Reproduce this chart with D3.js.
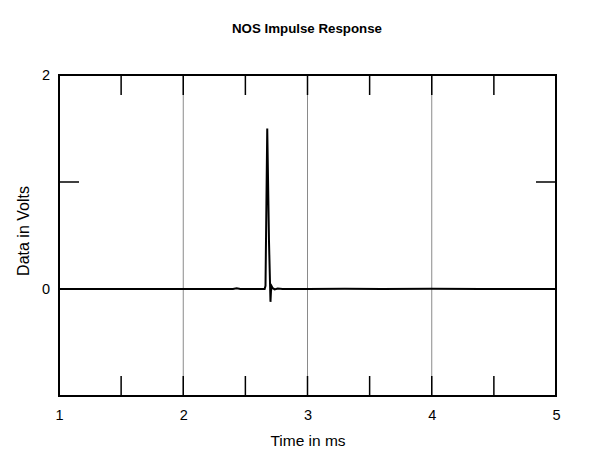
<!DOCTYPE html>
<html>
<head>
<meta charset="utf-8">
<script src="https://cdn.jsdelivr.net/npm/d3@7"></script>
<style>
  html, body { margin: 0; padding: 0; background: #fff; }
  svg { display: block; font-family: "Liberation Sans", Arial, Helvetica, sans-serif; }
</style>
</head>
<body>
<svg id="chart" width="600" height="458"></svg>
<script>
// ---- data ----
const title = "NOS Impulse Response";
const xLabel = "Time in ms";
const yLabel = "Data in Volts";
const xTickLabels = [1, 2, 3, 4, 5];
const yTickLabels = [0, 2];
const xGridValues = [2, 3, 4];
const xMinorTicks = [1.5, 2, 2.5, 3, 3.5, 4, 4.5];
const yMinorTicks = [1];
const timeMs = [1.0, 2.0, 2.40, 2.43, 2.46, 2.60, 2.655, 2.662, 2.676, 2.690, 2.702, 2.706, 2.712, 2.720, 2.735, 2.76, 2.80, 3.0, 3.3, 3.6, 4.0, 4.4, 4.8, 5.0];
const volts  = [0.0, 0.0, 0.0, 0.006, 0.0, 0.0, 0.0, 0.03, 1.50, 0.45, -0.12, -0.02, 0.025, 0.008, -0.004, 0.004, 0.0, 0.0, 0.003, 0.0, 0.002, 0.0, 0.0, 0.0];

// ---- layout ----
const svg = d3.select("#chart");
const L = 59, R = 556, T = 75, B = 396;
const x = d3.scaleLinear().domain([1, 5]).range([L, R]);
const y = d3.scaleLinear().domain([-1, 2]).range([B, T]);
const tickLen = 20;

// title
svg.append("text").attr("x", 307).attr("y", 33).attr("text-anchor", "middle")
  .attr("font-size", 13.3).attr("font-weight", "bold").text(title);

// gridlines
svg.append("g").selectAll("line").data(xGridValues).join("line")
  .attr("x1", d => x(d)).attr("x2", d => x(d)).attr("y1", T).attr("y2", B)
  .attr("stroke", "#8a8a8a").attr("stroke-width", 1);

// inner ticks top & bottom
const tg = svg.append("g").attr("stroke", "#000").attr("stroke-width", 1.5);
tg.selectAll(".tt").data(xMinorTicks).join("line")
  .attr("x1", d => x(d)).attr("x2", d => x(d)).attr("y1", T).attr("y2", T + tickLen);
tg.selectAll(".tb").data(xMinorTicks).join("line")
  .attr("x1", d => x(d)).attr("x2", d => x(d)).attr("y1", B).attr("y2", B - tickLen);
tg.selectAll(".tl").data(yMinorTicks).join("line")
  .attr("x1", L).attr("x2", L + tickLen).attr("y1", d => y(d)).attr("y2", d => y(d));
tg.selectAll(".tr").data(yMinorTicks).join("line")
  .attr("x1", R).attr("x2", R - tickLen).attr("y1", d => y(d)).attr("y2", d => y(d));

// data line
const line = d3.line().x((d, i) => x(timeMs[i])).y(d => y(d));
svg.append("path").datum(volts).attr("d", line)
  .attr("fill", "none").attr("stroke", "#000").attr("stroke-width", 2)
  .attr("stroke-linejoin", "miter");

// frame
svg.append("rect").attr("x", L).attr("y", T).attr("width", R - L).attr("height", B - T)
  .attr("fill", "none").attr("stroke", "#000").attr("stroke-width", 2);

// axes labels via d3 axes
const xAxis = d3.axisBottom(x).tickValues(xTickLabels).tickSize(0).tickPadding(14).tickFormat(d3.format("d"));
const gx = svg.append("g").attr("transform", `translate(0,${B})`).call(xAxis);
gx.select(".domain").remove();
gx.selectAll("text").attr("font-size", 14.5).attr("fill", "#000").attr("font-family", "Liberation Sans, Arial, sans-serif");

const yAxis = d3.axisLeft(y).tickValues(yTickLabels).tickSize(0).tickPadding(9).tickFormat(d3.format("d"));
const gy = svg.append("g").attr("transform", `translate(${L},0)`).call(yAxis);
gy.select(".domain").remove();
gy.selectAll("text").attr("font-size", 14.5).attr("fill", "#000").attr("font-family", "Liberation Sans, Arial, sans-serif");

svg.append("text").attr("x", 308).attr("y", 446).attr("text-anchor", "middle")
  .attr("font-size", 15.5).text(xLabel);
svg.append("text").attr("transform", "translate(29,231) rotate(-90)").attr("text-anchor", "middle")
  .attr("font-size", 16).text(yLabel);
</script>
</body>
</html>
